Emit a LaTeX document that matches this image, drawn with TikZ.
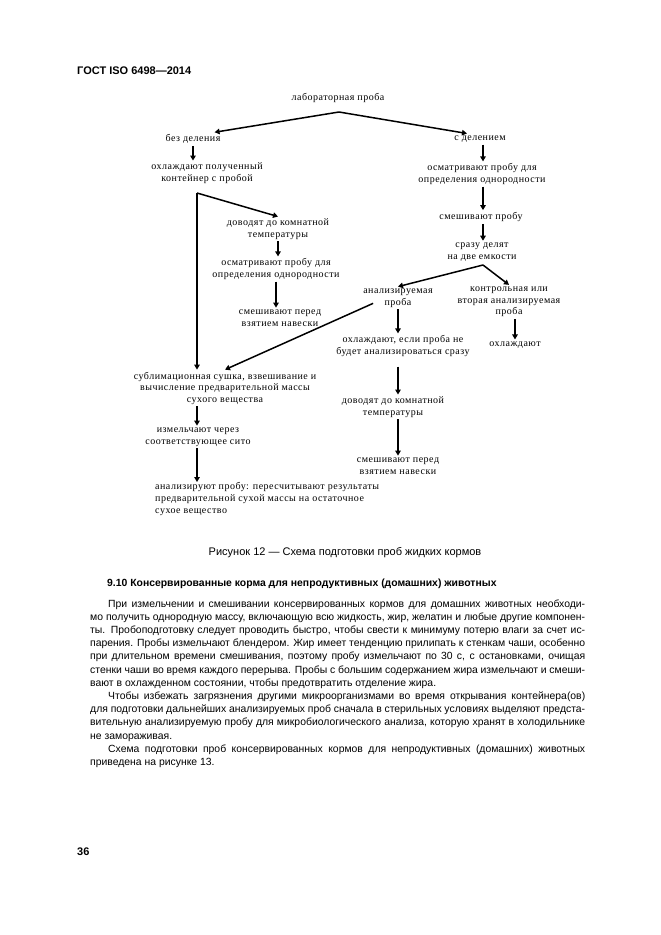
\documentclass[tikz,border=0pt]{standalone}
\usepackage{fontspec}
\setmainfont{Liberation Sans}
\newfontfamily\schemefont[LetterSpace=5]{Liberation Serif}
\usetikzlibrary{arrows.meta}

\begin{document}
\begin{tikzpicture}[x=1pt, y=-1pt,
	every node/.style={font=\schemefont\fontsize{10}{11.5}\selectfont, align=center, inner sep=2pt},
	arrow/.style={-{Triangle[length=5pt,width=5.5pt]}, line width=1.5pt},
	body/.style={font=\fontsize{10.4}{13.2}\selectfont, inner sep=0pt, anchor=base west},
	heading/.style={body, font=\bfseries\fontsize{10.4}{13.2}\selectfont},
	pagehead/.style={body, font=\bfseries\fontsize{11}{13}\selectfont}]

    \useasboundingbox (0,0) rectangle (661,935);

    \node[pagehead] (gost) at (77,74) {ГОСТ ISO 6498—2014};

    \node (lab) at (338,98) {лабораторная проба};
    \node (bez) at (193,139) {без деления};
    \node (sdel) at (480,139) {с делением};
    \coordinate (top) at (339,112);
    \coordinate (turn) at (197,193);
    \coordinate (fork) at (483,265);

    % sample without division
    \node (cool) at (207,173) {охлаждают полученный\\контейнер с пробой};
    \node (warm) at (278,229) {доводят до комнатной\\температуры};
    \node (look) at (276,269) {осматривают пробу для\\определения однородности};
    \node (mix) at (280,318) {смешивают перед\\взятием навески};
    \node (dry) at (225,388) {сублимационная сушка, взвешивание и\\вычисление предварительной массы\\сухого вещества};
    \node (mill) at (198,437) {измельчают через\\соответствующее сито};
    \node[align=left, anchor=north west, inner sep=0pt, font=\schemefont\fontsize{10}{12.3}\selectfont] (result) at (155,482)
        {анализируют пробу: пересчитывают результаты\\предварительной сухой массы на остаточное\\сухое вещество};

    % sample with division
    \node (look2) at (482,174) {осматривают пробу для\\определения однородности};
    \node (mix2) at (481,217) {смешивают пробу};
    \node (split) at (482,252) {сразу делят\\на две емкости};
    \node (test) at (398,298) {анализируемая\\проба};
    \node (ctrl) at (509,302) {контрольная или\\вторая анализируемая\\проба};
    \node (chill) at (515,345) {охлаждают};
    \node (chill2) at (403,346) {охлаждают, если проба не\\будет анализироваться сразу};
    \node (warm2) at (393,407) {доводят до комнатной\\температуры};
    \node (mix3) at (398,466) {смешивают перед\\взятием навески};

    \draw[arrow] (top) -- ([xshift=-8pt]bez.north east);
    \draw[arrow] (top) -- ([xshift=-13pt]sdel.north);

    \draw[arrow] (bez.south) -- (bez.south |- cool.north);
    \draw[arrow] (turn) -- (warm.north);
    \draw[arrow] (turn) -- (turn |- dry.north);
    \draw[arrow] (warm.south) -- (warm.south |- look.north);
    \draw[arrow] (look.south) -- (look.south |- mix.north);
    \draw[arrow] ([shift={(12pt,6pt)}]test.south west) -- (dry.north);
    \draw[arrow] (turn |- dry.south) -- (turn |- mill.north);
    \draw[arrow] (turn |- mill.south) -- (turn |- result.north);

    \draw[arrow] (fork |- sdel.south) -- (fork |- look2.north);
    \draw[arrow] (fork |- look2.south) -- (fork |- mix2.north);
    \draw[arrow] (fork |- mix2.south) -- (fork |- split.north);
    \draw[arrow] (fork) -- (test.north);
    \draw[arrow] (fork) -- (ctrl.north);
    \draw[arrow] (test.south) -- (test.south |- chill2.north);
    \draw[arrow] (chill.north |- ctrl.south) -- (chill.north);
    \draw[arrow, shorten <=8pt] (test.south |- chill2.south) -- (test.south |- warm2.north);
    \draw[arrow] (test.south |- warm2.south) -- (test.south |- mix3.north);

    \node[body, anchor=base] (caption) at (345,555) {\fontsize{11}{13}\selectfont Рисунок 12 — Схема подготовки проб жидких кормов};

    \node[heading] (sect) at (107,586) {9.10 Консервированные корма для непродуктивных (домашних) животных};

    \node[body, text width=495pt, align=justify] (txt) at (90,607) {\hyphenpenalty=10000
\hspace*{18pt}При измельчении и смешивании консервированных кормов для домашних животных необходи-\linebreak
мо получить однородную массу, включающую всю жидкость, жир, желатин и любые другие компонен-\linebreak
ты. Пробоподготовку следует проводить быстро, чтобы свести к минимуму потерю влаги за счет ис-\linebreak
парения. Пробы измельчают блендером. Жир имеет тенденцию прилипать к стенкам чаши, особенно\linebreak
при длительном времени смешивания, поэтому пробу измельчают по 30~с, с остановками, очищая\linebreak
стенки чаши во время каждого перерыва. Пробы с большим содержанием жира измельчают и смеши-\linebreak
вают в охлажденном состоянии, чтобы предотвратить отделение жира.\par
\hspace*{18pt}Чтобы избежать загрязнения другими микроорганизмами во время открывания контейнера(ов)\linebreak
для подготовки дальнейших анализируемых проб сначала в стерильных условиях выделяют предста-\linebreak
вительную анализируемую пробу для микробиологического анализа, которую хранят в холодильнике\linebreak
не замораживая.\par
\hspace*{18pt}Схема подготовки проб консервированных кормов для непродуктивных (домашних) животных\linebreak
приведена на рисунке 13.};

    \node[pagehead] (page) at (77,855) {36};
\end{tikzpicture}
\end{document}
